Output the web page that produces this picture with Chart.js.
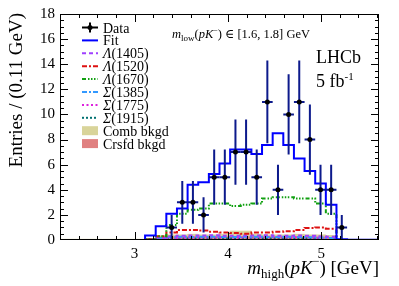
<!DOCTYPE html>
<html>
<head>
<meta charset="utf-8">
<script src="https://cdn.jsdelivr.net/npm/chart.js@4.4.1/dist/chart.umd.min.js"></script>
<style>
  html, body { margin: 0; padding: 0; background: #fff; }
  #wrap { width: 399px; height: 286px; }
</style>
</head>
<body>
<div id="wrap"><canvas id="chart_box" width="399" height="286"></canvas></div>
<script>
// binning of m_high(pK-)
var xLow = 2.2, binW = 0.114, nBins = 30;
var xMax = 5.62;
var xTicks = [3, 4, 5];
var yTicks = [0, 2, 4, 6, 8, 10, 12, 14, 16, 18];

// per-bin contents, bins 0..29
var dataVals = [0,0,0,0,0,0,0,0,0,0, 1,3,3,2,5,5,7,7,5,11,4,10,11,8,4,4,1, 0,0,0];
var dataErr  = [0,0,0,0,0,0,0,0,0,0, 1,1.7,1.7,1.4,2.2,2.2,2.6,2.6,2.2,3.3,2,3.2,3.3,2.8,2,2,1, 0,0,0];
var fitVals  = [0,0,0,0,0,0,0,0,0, 0.35,1.1,2.1,2.5,4.4,4.6,5.25,6.1,7.2,7.2,6.85,7.56,8.5,7.56,6.5,5.5,4.5,2.8,0.05, 0.02,0.02];
var lam1405  = [0,0,0,0,0,0,0,0,0, 0.05,0.2,0.3,0.34,0.36,0.35,0.37,0.34,0.33,0.36,0.35,0.37,0.34,0.33,0.35,0.34,0.3,0.25,0, 0,0];
var lam1520  = [0,0,0,0,0,0,0,0,0, 0.05,0.3,0.6,0.8,0.8,0.75,0.65,0.6,0.55,0.5,0.6,0.6,0.65,0.7,0.8,0.95,1.0,0.9,0, 0,0];
var lam1670  = [0,0,0,0,0,0,0,0,0, 0.05,0.3,1.2,2.1,2.4,2.5,2.9,2.9,2.7,2.8,2.9,3.3,3.4,3.4,3.3,3.3,2.9,2.1,0, 0,0];
var sig1385  = [0,0,0,0,0,0,0,0,0, 0.03,0.15,0.22,0.25,0.24,0.26,0.25,0.23,0.24,0.25,0.26,0.24,0.23,0.25,0.24,0.22,0.2,0.15,0, 0,0];
var sig1775  = [0,0,0,0,0,0,0,0,0, 0.02,0.1,0.15,0.18,0.2,0.19,0.2,0.21,0.2,0.19,0.2,0.21,0.22,0.2,0.21,0.2,0.18,0.15,0, 0,0];
var sig1915  = [0,0,0,0,0,0,0,0,0, 0.02,0.08,0.1,0.12,0.12,0.13,0.12,0.11,0.12,0.13,0.12,0.12,0.13,0.12,0.12,0.11,0.1,0.08,0, 0,0];
var combBkg  = [0.05,0.05,0.05,0.05,0.05,0.05,0.05,0.05,0.05, 0.1,0.3,0.4,0.4,0.45,0.4,0.4,0.45,0.7,0.7,0.45,0.4,0.4,0.4,0.45,0.4,0.4,0.35,0.05, 0.05,0.05];
var crsfdBkg = [0.02,0.02,0.02,0.02,0.02,0.02,0.02,0.02,0.02, 0.05,0.2,0.25,0.25,0.25,0.28,0.25,0.25,0.25,0.25,0.28,0.25,0.25,0.25,0.25,0.25,0.22,0.2,0.02, 0.02,0.02];

var FONT = '"Liberation Serif", "DejaVu Serif", serif';

var edges = [];
for (var i = 0; i <= nBins; i++) edges.push(xLow + i * binW);

// histogram as step line: point at each left edge + closing point
function steps(vals) {
    var pts = vals.map(function (v, i) { return { x: edges[i], y: v }; });
    pts.push({ x: edges[nBins], y: vals[nBins - 1] });
    return pts;
}

function dataPoints() {
    var pts = [];
    for (var i = 0; i < nBins; i++) {
        if (dataVals[i] > 0) pts.push({ x: (edges[i] + edges[i + 1]) / 2, y: dataVals[i], e: dataErr[i] });
    }
    return pts;
}

function lineSet(vals, color, dash) {
    return {
        data: steps(vals), stepped: 'after', borderColor: color, borderWidth: 2,
        borderDash: dash, pointRadius: 0, fill: false
    };
}

function fillSet(vals, color) {
    return {
        data: steps(vals), stepped: 'after', borderColor: color, borderWidth: 1,
        backgroundColor: color, pointRadius: 0, fill: 'origin'
    };
}

// legend entries
var legendItems = [
    { name: [['Data', '']], kind: 'data' },
    { name: [['Fit', '']], kind: 'line', color: '#0000ff', dash: [] },
    { name: [['\u039B', 'italic '], ['(1405)', '']], kind: 'line', color: '#a040ff', dash: [4, 3] },
    { name: [['\u039B', 'italic '], ['(1520)', '']], kind: 'line', color: '#dd1111', dash: [5, 2, 2, 2] },
    { name: [['\u039B', 'italic '], ['(1670)', '']], kind: 'line', color: '#11a011', dash: [4, 2, 1.5, 1.5, 1.5, 1.5, 1.5, 2] },
    { name: [['\u03A3', 'italic '], ['(1385)', '']], kind: 'line', color: '#3399ff', dash: [5, 2, 2, 2] },
    { name: [['\u03A3', 'italic '], ['(1775)', '']], kind: 'line', color: '#dd22dd', dash: [2, 2.5] },
    { name: [['\u03A3', 'italic '], ['(1915)', '']], kind: 'line', color: '#007070', dash: [2, 2] },
    { name: [['Comb bkgd', '']], kind: 'fill', color: '#d9d49a' },
    { name: [['Crsfd bkgd', '']], kind: 'fill', color: '#e08080' }
];

// rich text: parts = [text, size, style, dy]
function drawRich(ctx, parts, x, y, align) {
    var w = 0;
    parts.forEach(function (p) {
        ctx.font = (p[2] || '') + p[1] + 'px ' + FONT;
        p.w = ctx.measureText(p[0]).width;
        w += p.w;
    });
    var cx = align === 'right' ? x - w : x;
    parts.forEach(function (p) {
        ctx.font = (p[2] || '') + p[1] + 'px ' + FONT;
        ctx.fillText(p[0], cx, y + (p[3] || 0));
        cx += p.w;
    });
}

var errorBars = {
    id: 'errorBars',
    beforeDatasetDraw: function (chart, args) {
        if (args.index !== 0) return;
        var xs = chart.scales.x, ys = chart.scales.y, ctx = chart.ctx;
        var pts = chart.data.datasets[0].data;
        ctx.save();
        ctx.strokeStyle = '#0d1a8c';
        ctx.lineWidth = 2;
        pts.forEach(function (d) {
            var px = xs.getPixelForValue(d.x), py = ys.getPixelForValue(d.y);
            ctx.beginPath();
            ctx.moveTo(xs.getPixelForValue(d.x - binW / 2), py);
            ctx.lineTo(xs.getPixelForValue(d.x + binW / 2), py);
            ctx.moveTo(px, ys.getPixelForValue(d.y - d.e));
            ctx.lineTo(px, ys.getPixelForValue(d.y + d.e));
            ctx.stroke();
        });
        ctx.restore();
    }
};

var frame = {
    id: 'frame',
    afterDraw: function (chart) {
        var ctx = chart.ctx, a = chart.chartArea;
        var xs = chart.scales.x, ys = chart.scales.y;
        ctx.save();
        ctx.strokeStyle = '#000';
        ctx.lineWidth = 1;
        ctx.strokeRect(a.left + 0.5, a.top + 0.5, a.right - a.left - 1, a.bottom - a.top - 1);
        ctx.beginPath();
        // x ticks every 0.2, major at integers
        for (var j = 11; j <= 28; j++) {
            var v = j * 0.2;
            if (v > xMax) break;
            var len = (j % 5 === 0) ? 8 : 4;
            var px = Math.round(xs.getPixelForValue(v)) + 0.5;
            ctx.moveTo(px, a.bottom); ctx.lineTo(px, a.bottom - len);
            ctx.moveTo(px, a.top); ctx.lineTo(px, a.top + len);
        }
        // y ticks every 0.5, major every 2
        for (var k = 1; k < 36; k++) {
            var yv = k * 0.5;
            var ylen = (k % 4 === 0) ? 8 : 4;
            var py = Math.round(ys.getPixelForValue(yv)) + 0.5;
            ctx.moveTo(a.left, py); ctx.lineTo(a.left + ylen, py);
            ctx.moveTo(a.right, py); ctx.lineTo(a.right - ylen, py);
        }
        ctx.stroke();

        ctx.fillStyle = '#000';
        ctx.textBaseline = 'alphabetic';
        // x title
        drawRich(ctx, [['m', 19, 'italic '], ['high', 13, '', 4], ['(', 19], ['pK', 19, 'italic '],
            ['\u2212', 12, '', -9], [') [GeV]', 19]], a.right, 274, 'right');
        // y title
        ctx.save();
        ctx.translate(17, a.top - 1);
        ctx.rotate(-Math.PI / 2);
        ctx.textAlign = 'right';
        ctx.textBaseline = 'middle';
        ctx.font = '19px ' + FONT;
        ctx.fillText('Entries / (0.11 GeV)', 0, 0);
        ctx.restore();

        // selection label
        drawRich(ctx, [['m', 12.5, 'italic '], ['low', 9, '', 3], ['(', 12.5], ['pK', 12.5, 'italic '],
            ['\u2212', 8, '', -5], [') \u2208 [1.6, 1.8] GeV', 12.5]], 172, 38, 'left');
        drawRich(ctx, [['LHCb', 18]], 316, 63, 'left');
        drawRich(ctx, [['5 fb', 18], ['-1', 11, '', -7]], 316, 87, 'left');

        // legend
        var y0 = 27.5, dy = 12.9, sx0 = 82, sx1 = 98, tx = 103;
        legendItems.forEach(function (it, n) {
            var yc = y0 + n * dy;
            ctx.save();
            if (it.kind === 'data') {
                ctx.strokeStyle = '#000'; ctx.lineWidth = 2;
                ctx.beginPath();
                ctx.moveTo(sx0, yc); ctx.lineTo(sx1, yc);
                ctx.moveTo((sx0 + sx1) / 2, yc - 5); ctx.lineTo((sx0 + sx1) / 2, yc + 5);
                ctx.stroke();
                ctx.fillStyle = '#000';
                ctx.beginPath(); ctx.arc((sx0 + sx1) / 2, yc, 2.5, 0, Math.PI * 2); ctx.fill();
            } else if (it.kind === 'line') {
                ctx.strokeStyle = it.color; ctx.lineWidth = 2; ctx.setLineDash(it.dash);
                ctx.beginPath(); ctx.moveTo(sx0, yc); ctx.lineTo(sx1, yc); ctx.stroke();
            } else {
                ctx.fillStyle = it.color;
                ctx.fillRect(sx0, yc - 4.5, sx1 - sx0, 9);
            }
            ctx.restore();
            ctx.fillStyle = '#000';
            drawRich(ctx, it.name.map(function (p) { return [p[0], 14, p[1]]; }), tx, yc + 5, 'left');
        });
        ctx.restore();
    }
};

var ctx = document.getElementById('chart_box').getContext('2d');
var chart = new Chart(ctx, {
    type: 'line',
    data: {
        datasets: [
            {
                data: dataPoints(), showLine: false, pointRadius: 2.5,
                pointBackgroundColor: '#000', pointBorderWidth: 0
            },
            lineSet(fitVals, '#0000ff', []),
            lineSet(lam1670, '#11a011', [4, 2, 1.5, 1.5, 1.5, 1.5, 1.5, 2]),
            lineSet(lam1520, '#dd1111', [5, 2, 2, 2]),
            lineSet(lam1405, '#a040ff', [4, 3]),
            lineSet(sig1385, '#3399ff', [5, 2, 2, 2]),
            lineSet(sig1775, '#dd22dd', [2, 2.5]),
            lineSet(sig1915, '#007070', [2, 2]),
            fillSet(crsfdBkg, '#e08080'),
            fillSet(combBkg, '#d9d49a')
        ]
    },
    options: {
        responsive: false,
        animation: false,
        devicePixelRatio: 1,
        layout: { padding: { left: 0, top: 14, right: 20, bottom: 0 } },
        plugins: { legend: { display: false }, tooltip: { enabled: false } },
        scales: {
            x: {
                type: 'linear', min: xLow, max: xMax,
                grid: { display: false, drawTicks: false },
                border: { display: false },
                afterBuildTicks: function (s) { s.ticks = xTicks.map(function (v) { return { value: v }; }); },
                afterFit: function (s) { s.height = 46; },
                ticks: { color: '#000', font: { family: FONT, size: 15 }, padding: 5, maxRotation: 0 }
            },
            y: {
                min: 0, max: 18,
                grid: { display: false, drawTicks: false },
                border: { display: false },
                afterBuildTicks: function (s) { s.ticks = yTicks.map(function (v) { return { value: v }; }); },
                afterFit: function (s) { s.width = 60; },
                ticks: { color: '#000', font: { family: FONT, size: 15 }, padding: 5 }
            }
        }
    },
    plugins: [errorBars, frame]
});
</script>
</body>
</html>
